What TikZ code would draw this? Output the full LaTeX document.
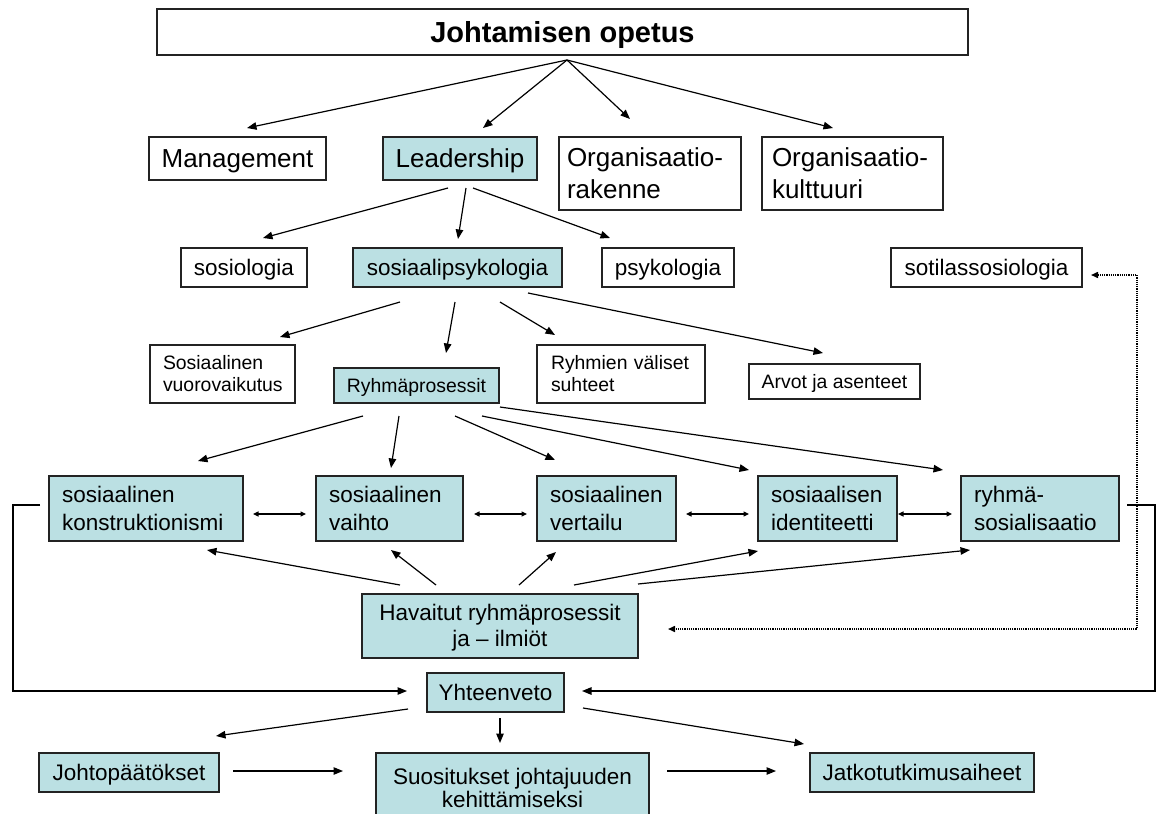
\documentclass[tikz,border=0pt]{standalone}
\usepackage{fontspec}
\setmainfont{Liberation Sans}
\usetikzlibrary{arrows.meta}
\definecolor{boxfill}{RGB}{187,224,227}
\definecolor{boxline}{RGB}{35,35,35}
\newcommand\fTitle{\fontsize{29}{34}\selectfont\bfseries}
\newcommand\fBig{\fontsize{26}{31.5}\selectfont}
\newcommand\fMid{\fontsize{22.5}{27.7}\selectfont}
\newcommand\fSmall{\fontsize{19.4}{21.8}\selectfont}
% invisible struts: font ascent above the first baseline, descent below the last
\newcommand\sth{\rule{0pt}{0.905em}}
\newcommand\std{\rule[-0.212em]{0pt}{0.212em}}
\newcommand\one[1]{\sth#1\std}
\tikzset{
  base/.style={draw=boxline, line width=1.1pt, anchor=north west, inner sep=0pt, outer sep=0pt},
  plain/.style={base, fill=white},
  tint/.style={base, fill=boxfill},
  conn/.style={line width=1.2pt, -{Triangle[length=9.5pt,width=7.5pt]}},
  both/.style={line width=1.2pt, {Triangle[length=5.5pt,width=5pt]}-{Triangle[length=5.5pt,width=5pt]}},
  loop/.style={line width=1.2pt, -{Triangle[length=9.5pt,width=7.5pt]}},
  dots/.style={line width=1.5pt, dash pattern=on 1.1pt off 1.1pt,
    {Triangle[length=7pt,width=6pt]}-{Triangle[length=7pt,width=6pt]}},
}
\begin{document}
\begin{tikzpicture}[x=1pt,y=-1pt]
\useasboundingbox (0,0) rectangle (1157,814);

% ---- boxes ----
\node[plain, minimum width=811pt, minimum height=46pt, font=\fTitle] (top) at (157,9) {\one{Johtamisen opetus}};

\node[plain, minimum width=177pt, minimum height=43pt, font=\fBig] (mgmt) at (149,137) {\one{Management}};
\node[tint, minimum width=154pt, minimum height=43pt, font=\fBig] (lead) at (383,137) {\one{Leadership}};
\node[plain, minimum height=73pt, text width=166pt, inner xsep=8pt, align=left, font=\fBig] (orgr) at (559,137) {\sth Organisaatio-\\rakenne\std};
\node[plain, minimum height=73pt, text width=161pt, inner xsep=10pt, align=left, font=\fBig] (orgk) at (762,137) {\sth Organisaatio-\\kulttuuri\std};

\node[plain, minimum width=126pt, minimum height=39pt, font=\fMid] (sos) at (181,248) {\one{sosiologia}};
\node[tint, minimum width=209pt, minimum height=39pt, font=\fMid] (sps) at (353,248) {\one{sosiaalipsykologia}};
\node[plain, minimum width=132pt, minimum height=39pt, font=\fMid] (psy) at (602,248) {\one{psykologia}};
\node[plain, minimum width=191pt, minimum height=39pt, font=\fMid] (sot) at (891,248) {\one{sotilassosiologia}};

\node[plain, minimum height=58pt, text width=119pt, inner xsep=13pt, align=left, font=\fSmall] (vuo) at (150,345) {\sth Sosiaalinen\\vuorovaikutus\std};
\node[tint, minimum width=165pt, minimum height=35pt, font=\fSmall] (ryp) at (334,368) {\one{Ryhmäprosessit}};
\node[plain, minimum height=58pt, text width=140pt, inner xsep=14pt, align=left, font=\fSmall] (val) at (537,345) {\sth Ryhmien väliset\\suhteet\std};
\node[plain, minimum width=171pt, minimum height=35pt, font=\fSmall] (arv) at (749,364) {\one{Arvot ja asenteet}};

\node[tint, minimum height=65pt, text width=168pt, inner xsep=13pt, align=left, font=\fMid] (kon) at (49,476) {\sth sosiaalinen\\konstruktionismi\std};
\node[tint, minimum height=65pt, text width=121pt, inner xsep=13pt, align=left, font=\fMid] (vai) at (316,476) {\sth sosiaalinen\\vaihto\std};
\node[tint, minimum height=65pt, text width=113pt, inner xsep=13pt, align=left, font=\fMid] (ver) at (537,476) {\sth sosiaalinen\\vertailu\std};
\node[tint, minimum height=65pt, text width=113pt, inner xsep=13pt, align=left, font=\fMid] (ide) at (758,476) {\sth sosiaalisen\\identiteetti\std};
\node[tint, minimum height=65pt, text width=132pt, inner xsep=13pt, align=left, font=\fMid] (rso) at (961,476) {\sth ryhmä-\\sosialisaatio\std};

\node[tint, minimum width=276pt, minimum height=64pt, align=center, font=\fontsize{22.5}{25.8}\selectfont] (hav) at (362,594) {\sth Havaitut ryhmäprosessit\\ja – ilmiöt\std};
\node[tint, minimum width=137pt, minimum height=39pt, font=\fMid] (yht) at (427,673) {\one{Yhteenveto}};
\node[tint, minimum width=180pt, minimum height=39pt, font=\fMid] (joh) at (39,753) {\one{Johtopäätökset}};
\node[tint, minimum width=273pt, minimum height=70pt, align=center, font=\fontsize{22.5}{23.5}\selectfont] (suo) at (376,753) {\sth Suositukset johtajuuden\\kehittämiseksi\std};
\node[tint, minimum width=224pt, minimum height=39pt, font=\fMid] (jat) at (810,753) {\one{Jatkotutkimusaiheet}};

% ---- connector end points ----
\coordinate (t0) at (567,60);
\coordinate (t1) at (247,128);
\coordinate (t2) at (483,128);
\coordinate (t3) at (630,119);
\coordinate (t4) at (833,128);

\coordinate (l1s) at (448,188); \coordinate (l1e) at (263,238);
\coordinate (l2s) at (466,188); \coordinate (l2e) at (458,239);
\coordinate (l3s) at (473,188); \coordinate (l3e) at (610,238);

\coordinate (p1s) at (400,302); \coordinate (p1e) at (280,337);
\coordinate (p2s) at (455,302); \coordinate (p2e) at (446,353);
\coordinate (p3s) at (500,302); \coordinate (p3e) at (555,335);
\coordinate (p4s) at (528,293); \coordinate (p4e) at (823,353);

\coordinate (r1s) at (363,416); \coordinate (r1e) at (198,461);
\coordinate (r2s) at (399,416); \coordinate (r2e) at (391,468);
\coordinate (r3s) at (455,416); \coordinate (r3e) at (555,460);
\coordinate (r4s) at (482,416); \coordinate (r4e) at (749,470);
\coordinate (r5s) at (500,407); \coordinate (r5e) at (943,470);

\coordinate (d1a) at (253,514); \coordinate (d1b) at (306,514);
\coordinate (d2a) at (474,514); \coordinate (d2b) at (527,514);
\coordinate (d3a) at (686,514); \coordinate (d3b) at (749,514);
\coordinate (d4a) at (898,514); \coordinate (d4b) at (952,514);

\coordinate (h1s) at (400,585); \coordinate (h1e) at (207,550);
\coordinate (h2s) at (436,585); \coordinate (h2e) at (391,550);
\coordinate (h3s) at (519,585); \coordinate (h3e) at (556,552);
\coordinate (h4s) at (574,585); \coordinate (h4e) at (758,551);
\coordinate (h5s) at (638,584); \coordinate (h5e) at (970,550);

\coordinate (la) at (40,505);  \coordinate (lb) at (13,505);
\coordinate (lc) at (13,691);  \coordinate (ld) at (407,691);
\coordinate (ra) at (1127,505); \coordinate (rb) at (1155,505);
\coordinate (rc) at (1155,691); \coordinate (rd) at (582,691);

\coordinate (sa) at (1091,275); \coordinate (sb) at (1137,275);
\coordinate (sc) at (1137,629); \coordinate (sd) at (668,629);

\coordinate (y1s) at (408,709); \coordinate (y1e) at (216,736);
\coordinate (y2s) at (500,718); \coordinate (y2e) at (500,743);
\coordinate (y3s) at (583,708); \coordinate (y3e) at (804,744);
\coordinate (b1s) at (233,771); \coordinate (b1e) at (343,771);
\coordinate (b2s) at (667,771); \coordinate (b2e) at (776,771);

% ---- connectors ----
\foreach \e in {t1,t2,t3,t4} \draw[conn] (t0) -- (\e);
\foreach \n in {l1,l2,l3,p1,p2,p3,p4,r1,r2,r3,r4,r5,h1,h2,h3,h4,h5,y1,y2,y3,b1,b2}
  \draw[conn] (\n s) -- (\n e);
\foreach \n in {d1,d2,d3,d4} \draw[both] (\n a) -- (\n b);

\draw[loop] (la) -- (lb) -- (lc) -- (ld);
\draw[loop] (ra) -- (rb) -- (rc) -- (rd);
\draw[dots] (sa) -- (sb) -- (sc) -- (sd);
\end{tikzpicture}
\end{document}
